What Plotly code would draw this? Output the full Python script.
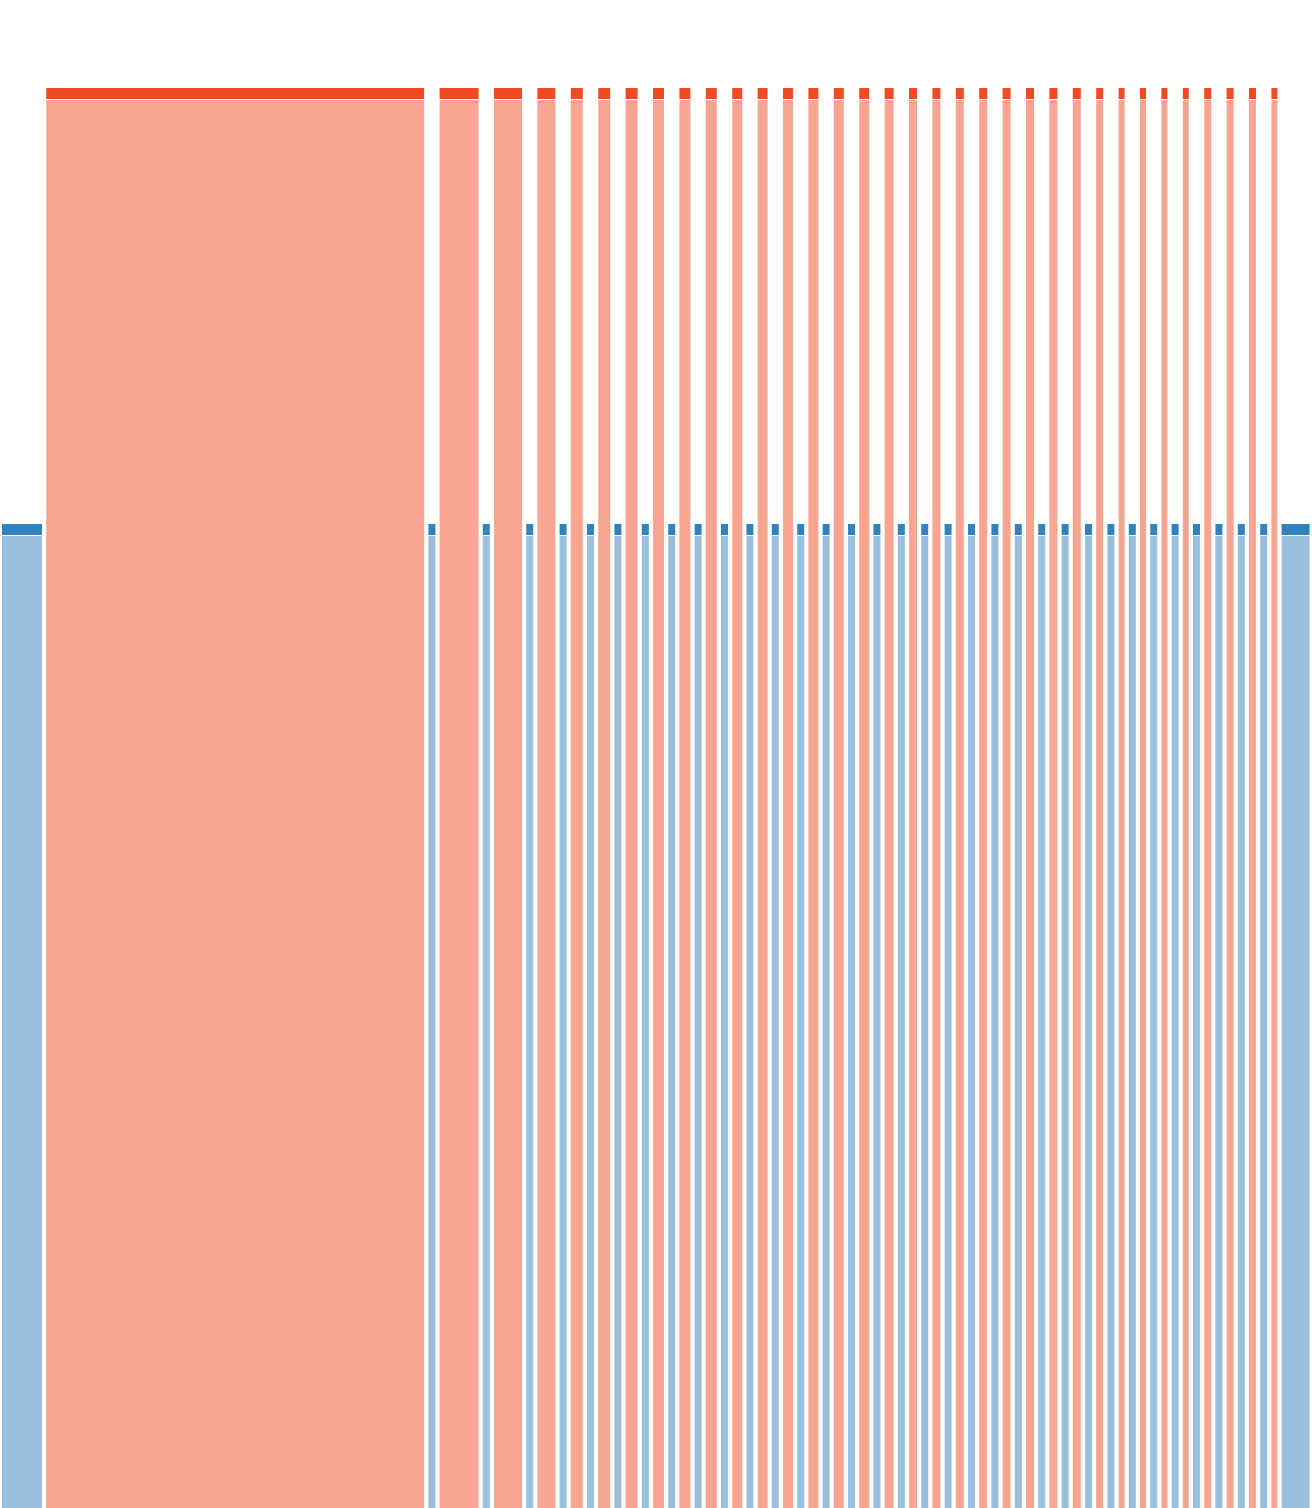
import plotly.graph_objects as go
import numpy as np

# column widths (left to right, per colour)
orange_widths = [378, 39, 28, 18, 12, 12, 12, 11, 11, 11, 10, 10, 10, 10, 10, 10, 9,
                 8, 8, 8, 8, 8, 8, 8, 8, 7, 6, 6, 6, 6, 7, 7, 7, 6]
blue_widths = [40] + [7] * 33 + [28]

# bar tops (how high each colour reaches)
orange_top = 1420
blue_top = 984
header = 11

ORANGE = "#F04B23"
BLUE = "#3182BD"

W, H = 1312, 1508
gap = 4.2
start = 2

# interleave: blue, orange, blue, ... , orange, blue
order = []
for i in range(len(blue_widths)):
    order.append(("b", blue_widths[i]))
    if i < len(orange_widths):
        order.append(("o", orange_widths[i]))

lefts = []
x = start
for kind, w in order:
    lefts.append(x)
    x += w + gap

def cols(kind):
    c, w = [], []
    for (k, wd), l in zip(order, lefts):
        if k == kind:
            c.append(l + wd / 2)
            w.append(wd)
    return np.array(c), np.array(w)

fig = go.Figure()

for kind, colour, top in [("o", ORANGE, orange_top), ("b", BLUE, blue_top)]:
    cx, cw = cols(kind)
    n = len(cx)
    # body (faded)
    fig.add_trace(go.Bar(
        x=cx, y=[top - header - 1] * n, base=[0] * n, width=cw,
        marker=dict(color=colour, opacity=0.5, line=dict(width=0)),
        hoverinfo="skip"
    ))
    # header strip
    fig.add_trace(go.Bar(
        x=cx, y=[header] * n, base=[top - header] * n, width=cw,
        marker=dict(color=colour, line=dict(width=0)),
        hoverinfo="skip"
    ))

fig.update_layout(
    width=W, height=H,
    margin=dict(l=0, r=0, t=0, b=0),
    barmode="overlay",
    showlegend=False,
    plot_bgcolor="white",
    paper_bgcolor="white",
    xaxis=dict(range=[0, W], visible=False, fixedrange=True),
    yaxis=dict(range=[0, H], visible=False, fixedrange=True),
)

fig.write_html(
    "out.html",
    config={"displayModeBar": False},
    post_script="document.body.style.margin='0';document.body.style.overflow='hidden';",
)
